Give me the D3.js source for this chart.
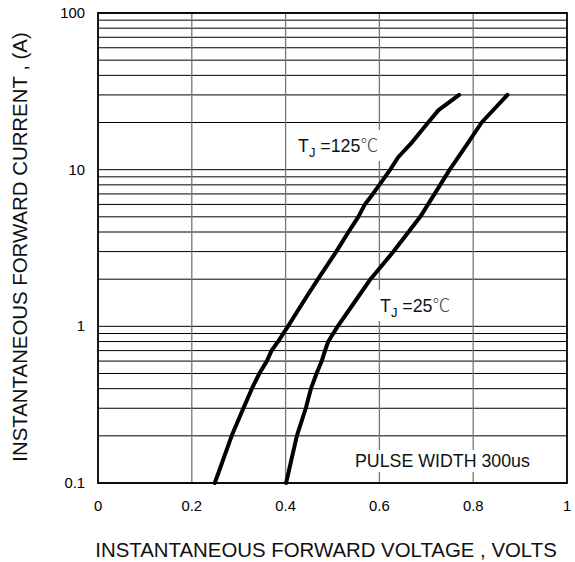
<!DOCTYPE html>
<html>
<head>
<meta charset="utf-8">
<script src="https://cdn.jsdelivr.net/npm/d3@7"></script>
<style>
  body { margin: 0; background: #fff; }
  svg { display: block; font-family: "Liberation Sans", Arial, sans-serif; }
  .grid-h { stroke: #000; stroke-width: 1; }
  .grid-v { stroke: #777; stroke-width: 1.3; }
  .curve { fill: none; stroke: #000; stroke-width: 4; stroke-linejoin: round; stroke-linecap: round; }
  .tick-lbl { font-size: 14.8px; fill: #000; }
  .ax-title { font-size: 20.4px; fill: #111; }
  .note { font-size: 17.8px; fill: #111; }
</style>
</head>
<body>
<svg id="chart" width="575" height="562"></svg>
<script>
// Data
const xTicks = [0, 0.2, 0.4, 0.6, 0.8, 1]
const yTicks = [0.1, 1, 10, 100]
const xTickLabels = ['0', '0.2', '0.4', '0.6', '0.8', '1']
const yTickLabels = ['0.1', '1', '10', '100']

const amps125 = [0.1, 0.2, 0.3, 0.4, 0.5, 0.6, 0.7, 0.8, 1, 1.5, 2, 3, 4, 5, 6, 7, 8, 10, 12, 15, 20, 24, 30]
const volts125 = [0.249, 0.285, 0.31, 0.328, 0.344, 0.36, 0.37, 0.384, 0.405, 0.442, 0.469, 0.508, 0.534, 0.555, 0.569, 0.586, 0.6, 0.623, 0.64, 0.67, 0.704, 0.726, 0.77]
const amps25 = [0.1, 0.2, 0.3, 0.4, 0.5, 0.6, 0.7, 0.8, 1, 1.5, 2, 3, 4, 5, 10, 15, 20, 30]
const volts25 = [0.401, 0.424, 0.443, 0.454, 0.466, 0.477, 0.484, 0.491, 0.511, 0.552, 0.581, 0.63, 0.662, 0.687, 0.75, 0.79, 0.818, 0.873]

const pLeft = 98, pRight = 567, pTop = 13, pBottom = 483

const svg = d3.select('#chart')
const x = d3.scaleLinear().domain([0, 1]).range([pLeft, pRight])
const y = d3.scaleLog().domain([0.1, 100]).range([pBottom, pTop])

// minor log grid: 1..9 in each decade
const hLines = []
;[0.1, 1, 10].forEach(dec => d3.range(1, 10).forEach(k => hLines.push(dec * k)))
hLines.push(100)

svg.append('g').selectAll('line').data(hLines).enter()
    .append('line')
    .attr('class', 'grid-h')
    .attr('x1', pLeft).attr('x2', pRight)
    .attr('y1', d => y(d)).attr('y2', d => y(d))

svg.append('g').selectAll('line').data(xTicks.slice(1, -1)).enter()
    .append('line')
    .attr('class', 'grid-v')
    .attr('x1', d => x(d)).attr('x2', d => x(d))
    .attr('y1', pTop).attr('y2', pBottom)

// label backgrounds (they cut the grid)
const labelBg = svg.append('g')

/* Curves */
const line = d3.line().x(d => x(d[0])).y(d => y(d[1]))
const series = [
    d3.zip(volts125, amps125),
    d3.zip(volts25, amps25)
]
svg.append('g').selectAll('path').data(series).enter()
    .append('path')
    .attr('class', 'curve')
    .attr('d', line)

/* Frame */
svg.append('rect')
    .attr('x', pLeft).attr('y', pTop)
    .attr('width', pRight - pLeft).attr('height', pBottom - pTop)
    .attr('fill', 'none').attr('stroke', '#000').attr('stroke-width', 1.8)

/* Axes labels */
svg.append('g').selectAll('text').data(xTicks).enter()
    .append('text')
    .attr('class', 'tick-lbl')
    .attr('x', d => x(d)).attr('y', 511)
    .attr('text-anchor', 'middle')
    .text((d, i) => xTickLabels[i])

svg.append('g').selectAll('text').data(yTicks).enter()
    .append('text')
    .attr('class', 'tick-lbl')
    .attr('x', 85).attr('y', d => y(d) + 5)
    .attr('text-anchor', 'end')
    .text((d, i) => yTickLabels[i])

svg.append('text')
    .attr('class', 'ax-title')
    .attr('x', 326).attr('y', 557)
    .attr('text-anchor', 'middle')
    .text('INSTANTANEOUS FORWARD VOLTAGE , VOLTS')

svg.append('text')
    .attr('class', 'ax-title')
    .attr('transform', 'translate(27,247) rotate(-90)')
    .attr('text-anchor', 'middle')
    .text('INSTANTANEOUS FORWARD CURRENT , (A)')

/* Annotations */
function tjLabel(xp, yp, temp) {
    const t = svg.append('text').attr('class', 'note').attr('x', xp).attr('y', yp)
    t.append('tspan').text('T')
    t.append('tspan').attr('dy', 5).attr('font-size', '13px').text('J')
    t.append('tspan').attr('dy', -5).text(' =' + temp)
    t.append('tspan').attr('font-family', '"Noto Sans CJK SC", sans-serif')
        .attr('font-weight', 300).attr('fill', '#444').text('℃')
    const b = t.node().getBBox()
    labelBg.append('rect').attr('x', b.x - 3).attr('y', b.y - 1)
        .attr('width', b.width + 6).attr('height', b.height + 2).attr('fill', '#fff')
}
tjLabel(298, 152, '125')
tjLabel(380, 312, '25')

const pulse = svg.append('text').attr('class', 'note')
    .attr('x', 355).attr('y', 467).text('PULSE WIDTH 300us')
const pb = pulse.node().getBBox()
labelBg.append('rect').attr('x', pb.x - 4).attr('y', pb.y - 1)
    .attr('width', pb.width + 8).attr('height', pb.height + 2).attr('fill', '#fff')
</script>
</body>
</html>
